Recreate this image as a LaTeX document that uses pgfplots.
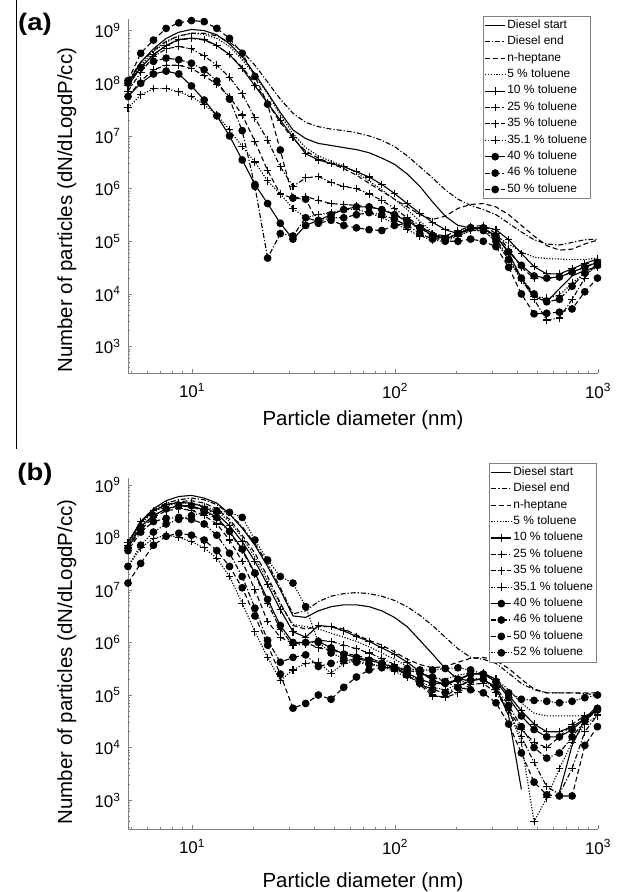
\documentclass[border=0pt]{standalone}
\usepackage{fontspec}
\setmainfont{Liberation Sans}
\usepackage{pgfplots}
\usepackage{pgfplotstable}
\pgfplotsset{compat=1.18}

% panel (a): particle size distributions, columns = legend order
\pgfplotstableread{
d      a1      a2      a3      a4      a5      a6      a7      a8      a9      a10     a11
4.84   1e8     1.12e8  1e8     1e8     8.9e7   7.1e7   5.6e7   3.4e7   5.6e7   1e8     1.12e8
5.59   2.5e8   2.5e8   2e8     2.2e8   2e8     1.6e8   1.1e8   6e7     1e8     2e8     3.7e8
6.46   4.5e8   4.2e8   3.5e8   4e8     3.5e8   3.2e8   1.8e8   7.9e7   1.5e8   2.6e8   6.6e8
7.46   7.1e8   6.3e8   5.2e8   6e8     5.2e8   4.5e8   2.2e8   7.9e7   1.7e8   3e8     1.1e9
8.61   9.3e8   7.9e8   6.6e8   7.9e8   6.8e8   5e8     2.2e8   6.9e7   1.5e8   2.8e8   1.4e9
9.94   1.05e9  8.9e8   7.1e8   8.9e8   7.2e8   4.5e8   1.9e8   5.6e7   8.9e7   2.4e8   1.55e9
11.48  1e9     8.9e8   6.6e8   8.5e8   6.8e8   3.3e8   1.4e8   3.9e7   4.8e7   1.8e8   1.48e9
13.26  8.3e8   7.9e8   5.2e8   7.1e8   5.2e8   2.2e8   9.5e7   2.5e7   2.4e7   1.1e8   1.1e9
15.31  5.6e8   6e8     3.5e8   5e8     3.5e8   1.3e8   5.6e7   1.3e7   1e7     5e7     7.1e8
17.68  3.2e8   4e8     2e8     2.8e8   1.9e8   6.3e7   2.5e7   6.3e6   3.5e6   1.26e7  3.7e8
20.42  1.5e8   2.2e8   1e8     1.4e8   8.9e7   2.2e7   7.9e6   3.2e6   1.2e6   1.1e6   1.35e8
23.58  6.6e7   1.05e8  4.2e7   6.3e7   4.2e7   8.3e6   2.2e6   1.4e6   5.2e5   4.8e4   4e7
27.23  2.8e7   5e7     1.8e7   2.5e7   2e7     2.6e6   7.9e5   7.9e5   2.2e5   1.4e5   5.4e6
31.44  1.3e7   2.7e7   8.9e6   1.1e7   9.5e6   1.1e6   6.6e5   4.2e5   1.1e5   1.26e5  6.6e5
36.31  8.9e6   1.8e7   5.2e6   6e6     4.6e6   1.6e6   7.1e5   2.8e5   2e5     2.8e5   6.3e5
41.93  7.2e6   1.5e7   3.8e6   4.2e6   3.5e6   1.7e6   6e5     3.2e5   2.5e5   2.4e5   2.2e5
48.42  6.6e6   1.35e7  3e6     3.3e6   3e6     1.3e6   5.2e5   3.5e5   3.2e5   2.8e5   2.5e5
55.91  6e6     1.26e7  2.4e6   2.7e6   2.6e6   1.1e6   5e5     4e5     4e5     2.8e5   2e5
64.57  5.5e6   1.15e7  1.8e6   2e6     2.1e6   1e6     4.8e5   4e5     4.5e5   3.2e5   1.8e5
74.56  4.8e6   1e7     1.26e6  1.4e6   1.66e6  7.9e5   4.5e5   3.5e5   4.5e5   3.5e5   1.66e5
86.1   3.8e6   8.3e6   8.9e5   9.5e5   1.2e6   6e5     4e5     2.8e5   4e5     3.2e5   1.6e5
99.4   2.9e6   6.3e6   6.3e5   6.3e5   8.1e5   4.2e5   3.3e5   2.2e5   3.2e5   2.6e5   2e5
114.8  1.9e6   4.2e6   4.5e5   4e5     5.2e5   2.8e5   2.5e5   1.66e5  2.4e5   2e5     2.2e5
132.6  1.1e6   2.6e6   3.2e5   2.4e5   3.4e5   2e5     1.9e5   1.26e5  1.8e5   1.4e5   1.8e5
153.1  5.6e5   1.6e6   2.6e5   1.5e5   2.3e5   1.4e5   1.4e5   1.05e5  1.3e5   1.1e5   1.26e5
176.8  3e5     9.5e5   3e5     1.1e5   1.66e5  1.1e5   1.26e5  1e5     1.1e5   1.1e5   1e5
204.2  2e5     6.3e5   4.2e5   1.26e5  1.4e5   1.4e5   1.6e5   1.26e5  1.4e5   1.4e5   1e5
235.8  1.8e5   4.8e5   5e5     1.6e5   1.66e5  1.8e5   1.9e5   1.6e5   1.8e5   1.8e5   1.1e5
272.3  1.74e5  4e5     5.2e5   1.6e5   1.9e5   1.8e5   2e5     1.6e5   1.8e5   1.6e5   1e5
314.4  1.26e5  3.2e5   4.5e5   1.26e5  1.66e5  1.1e5   1.4e5   1e5     1.26e5  1e5     7.9e4
363.1  6e4     2.2e5   3.2e5   8.9e4   1.07e5  5e4     7.1e4   4.5e4   6.3e4   4.5e4   3.2e4
419.3  2e4     1.5e5   2e5     6.3e4   5.9e4   2e4     3.2e4   1.8e4   3.5e4   2e4     1e4
484.2  8.9e3   1.07e5  1.26e5  5e4     3.3e4   7.9e3   2e4     8.9e3   2.2e4   1e4     4.2e3
559.1  7.1e3   8.9e4   8.3e4   4.7e4   2.4e4   3.2e3   2e4     8.3e3   2e4     7.1e3   4.3e3
645.7  1.26e4  8.5e4   6.8e4   4.6e4   2.4e4   3.5e3   2.1e4   9.5e3   2.1e4   7.9e3   4.5e3
745.6  2.2e4   9.5e4   7.1e4   4.5e4   3e4     7.9e3   2.6e4   1.6e4   2.6e4   1.4e4   5.2e3
861    2.8e4   1.07e5  8.9e4   4.5e4   3.8e4   2e4     3.3e4   2.5e4   3.2e4   2.5e4   1.1e4
994    3.3e4   1.1e5   1.05e5  4.8e4   4.6e4   4e4     4e4     3.2e4   4e4     3.5e4   2e4
}\tabA

% panel (b)
\pgfplotstableread{
d      b1      b2      b3      b4      b5      b6      b7      b8      b9      b10     b11     b12
4.84   7.9e7   7.9e7   7.9e7   7.1e7   7.9e7   7.1e7   6.3e7   2.8e7   6.3e7   5.6e7   1.35e7  2.8e7
5.59   2e8     2e8     1.9e8   1.8e8   2e8     1.6e8   1.4e8   6.3e7   1.6e8   1.26e8  3.2e7   7.1e7
6.46   3.5e8   3.3e8   3.2e8   3e8     3.2e8   2.6e8   2.4e8   9.5e7   2.6e8   2e8     7.1e7   1.26e8
7.46   5e8     4.5e8   4.2e8   4e8     4.2e8   3.5e8   3.2e8   1.1e8   3.5e8   2.3e8   1.05e8  1.8e8
8.61   6e8     5.2e8   4.8e8   4.5e8   4.6e8   4e8     3.5e8   1e8     4e8     2.4e8   1.2e8   2.2e8
9.94   6.3e8   5.6e8   5e8     4.5e8   4.5e8   3.8e8   3.3e8   8.3e7   4e8     2.2e8   1.1e8   2.6e8
11.48  5.6e8   5.2e8   4.5e8   4e8     3.8e8   3.2e8   2.6e8   6.3e7   3.3e8   1.8e8   8.9e7   3e8
13.26  4.5e8   4.2e8   3.5e8   3.2e8   2.8e8   2.2e8   1.8e8   4e7     2.4e8   1.1e8   5.6e7   3.2e8
15.31  2.8e8   2.8e8   2.2e8   2e8     1.66e8  1.26e8  8.9e7   1.8e7   1.3e8   5e7     2.8e7   3e8
17.68  1.5e8   1.6e8   1.1e8   1e8     8.3e7   5.6e7   3.5e7   5.6e6   6e7     1.8e7   1.1e7   2.4e8
20.42  7.1e7   7.6e7   5e7     4.2e7   3.5e7   2e7     1e7     1.6e6   2.1e7   4.5e6   3.2e6   8.9e7
23.58  2.8e7   3.2e7   1.8e7   1.5e7   1.26e7  5.6e6   2.5e6   5.2e5   6.6e6   1.1e6   8.9e5   3.7e7
27.23  1e7     1.1e7   5.6e6   5.2e6   4.2e6   1.8e6   1.26e6  1.9e5   2.1e6   4.2e5   2.5e5   1.8e7
31.44  3.2e6   3.5e6   2.1e6   2.2e6   1.6e6   8.9e5   9.5e5   3e5     1e6     5.2e5   5.6e4   1.35e7
36.31  3e6     4e6     1.8e6   2e6     1.26e6  9.3e5   1e6     4e5     1e6     5.8e5   6.9e4   4.8e6
41.93  4e6     6e6     2e6     1.8e6   2.1e6   1.1e6   7.9e5   4.2e5   1.05e6  3.5e5   1e5     1e6
48.42  4.8e6   7.6e6   2e6     1.5e6   2e6     1.05e6  7.1e5   2.6e5   7.9e5   4e5     8.3e4   6.3e5
55.91  5.2e6   8.5e6   1.8e6   1.26e6  1.66e6  8.9e5   6.3e5   4e5     6e5     4.5e5   1.4e5   5e5
64.57  5.2e6   8.9e6   1.4e6   1.05e6  1.3e6   7.6e5   5.6e5   4.5e5   5.2e5   4.8e5   2.2e5   4.2e5
74.56  4.8e6   8.5e6   1.1e6   8.3e5   1.05e6  6.3e5   5e5     4e5     4.6e5   4.5e5   3e5     3.8e5
86.1   4e6     7.6e6   8.9e5   6.3e5   7.9e5   5e5     4.2e5   3.5e5   4e5     4e5     3.3e5   3.5e5
99.4   3e6     6.3e6   6.6e5   4.8e5   6e5     3.8e5   3.3e5   2.8e5   3.3e5   3.2e5   3.3e5   3.3e5
114.8  2e6     4.8e6   4.8e5   3.5e5   4.2e5   2.6e5   2.4e5   2.2e5   2.6e5   2.4e5   3e5     3.2e5
132.6  1.1e6   3.3e6   3.8e5   2.6e5   2.8e5   1.8e5   1.6e5   1.8e5   2e5     1.66e5  2.6e5   3e5
153.1  6e5     2.1e6   3.3e5   2.1e5   1.9e5   1e5     9.5e4   1.4e5   1.66e5  1.26e5  2.2e5   3e5
176.8  3.2e5   1.26e6  3.5e5   2e5     1.6e5   8.9e4   9.3e4   1.26e5  1.66e5  1.1e5   1.8e5   3.2e5
204.2  2e5     7.6e5   4.2e5   2.4e5   1.9e5   1.1e5   1.4e5   1.6e5   2e5     1.4e5   1.4e5   3.3e5
235.8  1.9e5   5.2e5   5e5     2.6e5   2.5e5   1.6e5   2e5     2.1e5   2.5e5   1.9e5   1.26e5  3e5
272.3  2e5     4.8e5   5.2e5   2.5e5   2.6e5   1.66e5  2e5     2e5     2.5e5   2e5     1.1e5   2.5e5
314.4  1.4e5   4e5     4.5e5   2e5     2e5     1.1e5   1.26e5  1.26e5  1.8e5   1.4e5   7.1e4   1.8e5
363.1  4e4     2.6e5   3.2e5   1.26e5  1e5     5e4     5.2e4   5e4     8.9e4   6.3e4   2.8e4   1.1e5
419.3  1.6e3   1.66e5  2e5     7.1e4   5e4     1.6e4   2.2e4   1.26e4  4e4     2.5e4   7.9e3   8.3e4
484.2  nan     1.26e5  1.3e5   4.5e4   2.8e4   5.2e3   1.26e4  3.9e2   2.2e4   1e4     2.2e3   7.9e4
559.1  nan     1.1e5   1.1e5   4e4     2e4     1.8e3   1e4     1.1e3   1.6e4   6.3e3   1.26e3  7.6e4
645.7  1.4e3   1.1e5   1.1e5   4e4     2e4     1.3e3   1.6e4   4e3     1.6e4   7.9e3   1.2e3   7.1e4
745.6  1.1e4   1.1e5   1.1e5   4e4     2.5e4   4e3     2.8e4   1.26e4  2.2e4   1.6e4   1.2e3   7.6e4
861    3.5e4   1.07e5  1.1e5   4e4     3.5e4   2e4     4e4     2.8e4   3.5e4   3.2e4   1.1e4   8.9e4
994    6.3e4   1e5     1.1e5   4.5e4   5.2e4   4.2e4   5e4     4e4     5.6e4   5.2e4   2.5e4   1e5
}\tabB

\pgfplotsset{
  legend image code/.code={\draw[mark repeat=2,mark phase=2,#1] plot coordinates {(0bp,0bp) (10bp,0bp) (20bp,0bp)};},
  ldash/.style={dash pattern=on 5bp off 3bp},
  ldashdot/.style={dash pattern=on 5bp off 2bp on 1.2bp off 2bp},
  ldot/.style={dash pattern=on 1.2bp off 1.6bp},
  mplus/.style={mark=+, mark size=3.8bp},
  mdot/.style={mark=*, mark size=3.3bp},
  psd/.style={
    scale only axis, width=470bp,
    xmin=4.84, xmax=1000,
    clip=false, unbounded coords=jump,
    axis x line*=bottom, axis y line*=left,
    axis line style={gray, line width=0.8bp},
    tick align=inside, major tick length=4bp, minor tick length=2.2bp,
    every tick/.style={gray, line width=0.6bp},
    xtick={10,100,1000},
    xticklabels={10\textsuperscript{1},10\textsuperscript{2},10\textsuperscript{3}},
    minor xtick={5,6,7,8,9,20,30,40,50,60,70,80,90,200,300,400,500,600,700,800,900},
    ytick={1e3,1e4,1e5,1e6,1e7,1e8,1e9},
    yticklabels={10\textsuperscript{3},10\textsuperscript{4},10\textsuperscript{5},10\textsuperscript{6},10\textsuperscript{7},10\textsuperscript{8},10\textsuperscript{9}},
    minor ytick={300,400,500,600,700,800,900,
      2e3,3e3,4e3,5e3,6e3,7e3,8e3,9e3,2e4,3e4,4e4,5e4,6e4,7e4,8e4,9e4,
      2e5,3e5,4e5,5e5,6e5,7e5,8e5,9e5,2e6,3e6,4e6,5e6,6e6,7e6,8e6,9e6,
      2e7,3e7,4e7,5e7,6e7,7e7,8e7,9e7,2e8,3e8,4e8,5e8,6e8,7e8,8e8,9e8},
    tick label style={font=\fontsize{17}{17}\selectfont, text=black},
    xticklabel style={yshift=-7bp},
    yticklabel style={xshift=-4bp},
    label style={font=\fontsize{20.5}{22}\selectfont},
    xlabel={Particle diameter (nm)},
    ylabel={Number of particles (dN/dLogdP/cc)},
    every axis plot/.append style={black, line width=1.1bp, mark options={solid, fill=black}},
    legend cell align=left,
    legend style={anchor=north west, draw=gray, line width=0.6bp, fill=white,
      font=\fontsize{12}{13}\selectfont, inner xsep=1.5bp, inner ysep=1bp,
      nodes={inner sep=1.5bp, text height=9.5bp, text depth=3.9bp}},
  },
}

\begin{document}
\begin{tikzpicture}
\path[use as bounding box] (0,0) rectangle (620bp,892bp);
\draw[line width=1bp] (16bp,892bp) -- (16bp,443bp);
\node[font=\fontsize{24}{24}\selectfont\bfseries, xscale=1.15] at (35bp,868bp) {(a)};
\node[font=\fontsize{24}{24}\selectfont\bfseries, xscale=1.15] at (35bp,418bp) {(b)};

\begin{loglogaxis}[psd, at={(128bp,519bp)}, anchor=south west, height=354bp,
  ymin=316, ymax=1.66e9,
  xlabel style={at={(axis description cs:0.5,-0.133)}, anchor=center},
  ylabel style={at={(axis description cs:-0.13,0.46)}, anchor=center},
  legend style={at={(0.755,1.0085)}}]
\addplot[solid] table[x=d,y=a1] {\tabA}; \addlegendentry{Diesel start}
\addplot[ldashdot] table[x=d,y=a2] {\tabA}; \addlegendentry{Diesel end}
\addplot[ldash] table[x=d,y=a3] {\tabA}; \addlegendentry{n-heptane}
\addplot[ldot] table[x=d,y=a4] {\tabA}; \addlegendentry{5 \% toluene}
\addplot[solid, mplus] table[x=d,y=a5] {\tabA}; \addlegendentry{10 \% toluene}
\addplot[ldashdot, mplus] table[x=d,y=a6] {\tabA}; \addlegendentry{25 \% toluene}
\addplot[ldash, mplus] table[x=d,y=a7] {\tabA}; \addlegendentry{35 \% toluene}
\addplot[ldot, mplus] table[x=d,y=a8] {\tabA}; \addlegendentry{35.1 \% toluene}
\addplot[solid, mdot] table[x=d,y=a9] {\tabA}; \addlegendentry{40 \% toluene}
\addplot[ldashdot, mdot] table[x=d,y=a10] {\tabA}; \addlegendentry{46 \% toluene}
\addplot[ldash, mdot] table[x=d,y=a11] {\tabA}; \addlegendentry{50 \% toluene}
\end{loglogaxis}

\begin{loglogaxis}[psd, at={(128bp,63bp)}, anchor=south west, height=351bp,
  ymin=282, ymax=1.35e9,
  xlabel style={at={(axis description cs:0.5,-0.151)}, anchor=center},
  ylabel style={at={(axis description cs:-0.13,0.476)}, anchor=center},
  legend style={at={(0.768,1.043)}}]
\addplot[solid] table[x=d,y=b1] {\tabB}; \addlegendentry{Diesel start}
\addplot[ldashdot] table[x=d,y=b2] {\tabB}; \addlegendentry{Diesel end}
\addplot[ldash] table[x=d,y=b3] {\tabB}; \addlegendentry{n-heptane}
\addplot[ldot] table[x=d,y=b4] {\tabB}; \addlegendentry{5 \% toluene}
\addplot[solid, mplus] table[x=d,y=b5] {\tabB}; \addlegendentry{10 \% toluene}
\addplot[ldashdot, mplus] table[x=d,y=b6] {\tabB}; \addlegendentry{25 \% toluene}
\addplot[ldash, mplus] table[x=d,y=b7] {\tabB}; \addlegendentry{35 \% toluene}
\addplot[ldot, mplus] table[x=d,y=b8] {\tabB}; \addlegendentry{35.1 \% toluene}
\addplot[solid, mdot] table[x=d,y=b9] {\tabB}; \addlegendentry{40 \% toluene}
\addplot[ldashdot, mdot] table[x=d,y=b10] {\tabB}; \addlegendentry{46 \% toluene}
\addplot[ldash, mdot] table[x=d,y=b11] {\tabB}; \addlegendentry{50 \% toluene}
\addplot[ldot, mdot] table[x=d,y=b12] {\tabB}; \addlegendentry{52 \% toluene}
\end{loglogaxis}
\end{tikzpicture}
\end{document}
